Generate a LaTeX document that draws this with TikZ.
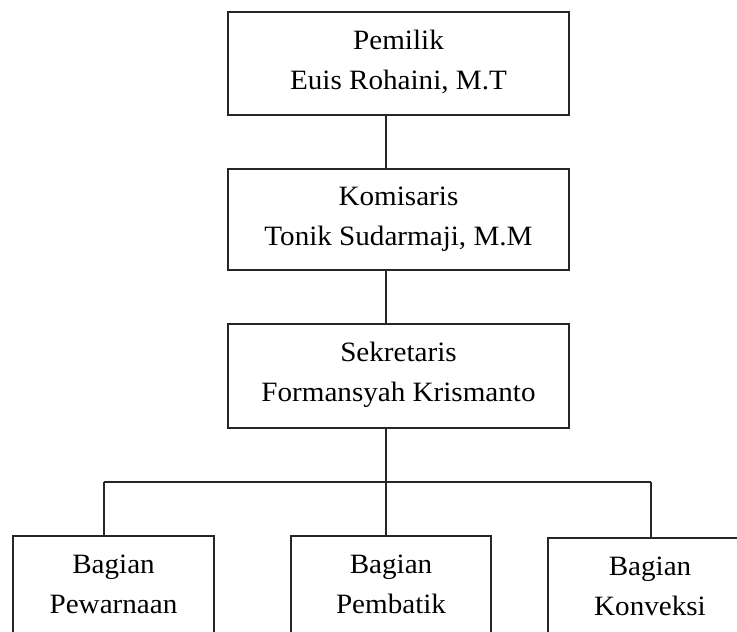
\documentclass[tikz,border=0pt]{standalone}
\usepackage{fontspec}
\setmainfont{Liberation Serif}[FakeStretch=1.04]
\newcommand{\lstrut}{\rule[-14pt]{0pt}{39pt}}
\begin{document}
\begin{tikzpicture}[x=1pt,y=-1pt,
  box/.style={draw=black!85, line width=1.3pt, inner sep=0pt, outer sep=0pt,
    align=center, font=\fontsize{28}{40}\selectfont},
  conn/.style={draw=black!85, line width=1.3pt}]
\useasboundingbox (0,0) rectangle (737,632);
\clip (0,0) rectangle (737,632);
\node[box, minimum width=341pt, minimum height=103pt] (pemilik) at (398.5,63.5)
  {\lstrut Pemilik\\\lstrut Euis Rohaini, M.T};
\node[box, minimum width=341pt, minimum height=101pt] (komisaris) at (398.5,219.5)
  {\lstrut Komisaris\\\lstrut Tonik Sudarmaji, M.M};
\node[box, minimum width=341pt, minimum height=104pt] (sekretaris) at (398.5,376)
  {\lstrut Sekretaris\\\lstrut Formansyah Krismanto};
\node[box, minimum width=201pt, minimum height=103pt] (pewarnaan) at (113.5,587.5)
  {\lstrut Bagian\\\lstrut Pewarnaan};
\node[box, minimum width=200pt, minimum height=103pt] (pembatik) at (391,587.5)
  {\lstrut Bagian\\\lstrut Pembatik};
\node[box, minimum width=204pt, minimum height=103pt] (konveksi) at (650,589.5)
  {\lstrut Bagian\\\lstrut Konveksi};
\coordinate (spine) at (386,0);
\coordinate (busL) at (104,482);
\coordinate (busM) at (386,482);
\coordinate (busR) at (651,482);
\draw[conn] (pemilik.south -| spine) -- (komisaris.north -| spine);
\draw[conn] (komisaris.south -| spine) -- (sekretaris.north -| spine);
\draw[conn] (sekretaris.south -| spine) -- (busM);
\draw[conn] (busL) -- (busR);
\draw[conn] (busL) -- (pewarnaan.north -| busL);
\draw[conn] (busM) -- (pembatik.north -| busM);
\draw[conn] (busR) -- (konveksi.north -| busR);
\end{tikzpicture}
\end{document}
